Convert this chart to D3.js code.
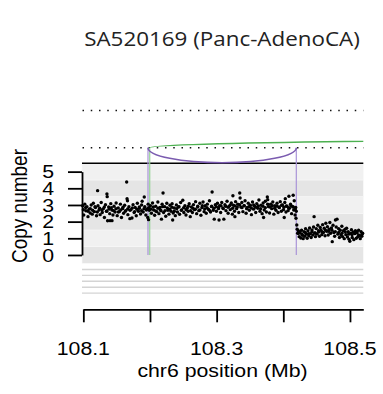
<!DOCTYPE html>
<html>
<head>
<meta charset="utf-8">
<script src="https://cdn.jsdelivr.net/npm/d3@7"></script>
<style>
  body { margin: 0; background: #fff; }
  text { font-family: "Liberation Sans", Arial, sans-serif; fill: #000; }
</style>
</head>
<body>
<svg id="chart" width="383" height="394"></svg>
<script>
const title = "SA520169 (Panc-AdenoCA)";
const xTitle = "chr6 position (Mb)";
const yTitle = "Copy number";
const xDomain = [108.098, 108.52];
const xTicks = [108.1, 108.2, 108.3, 108.4, 108.5];
const xTickLabels = ["108.1", "", "108.3", "", "108.5"];
const yTicks = [0, 1, 2, 3, 4, 5];
const cnBands = [0, 1, 2, 3, 4, 5];
const emptyTracks = [0, 1, 2, 3, 4];

// structural variants: breakpoint A, breakpoint B, kind
const svStart = [108.1970, 108.1996];
const svEnd = [108.4195, 110.0];
const svKind = ["inv", "dup"];

// copy number points [position Mb, copy number]
const leftSegment = [
  [108.0990, 2.95], [108.1006, 2.40], [108.1022, 3.05], [108.1038, 2.65], [108.1054, 2.90], [108.1070, 2.30], [108.1086, 2.75], [108.1102, 2.52], [108.1118, 3.00], [108.1134, 2.45], [108.1150, 3.10], [108.1166, 2.60], [108.1182, 2.85], [108.1198, 2.35], [108.1214, 3.86], [108.1220, 2.95], [108.1236, 2.70], [108.1252, 2.42], [108.1268, 3.15], [108.1284, 2.55], [108.1300, 2.78], [108.1316, 2.25], [108.1332, 3.02], [108.1348, 2.62], [108.1354, 3.66], [108.1358, 3.50], [108.1364, 2.05], [108.1380, 2.88], [108.1396, 2.48], [108.1401, 2.06], [108.1412, 3.08], [108.1428, 2.70], [108.1430, 2.06], [108.1444, 2.40], [108.1460, 2.92], [108.1476, 2.58], [108.1492, 3.12],
  [108.1508, 2.36], [108.1524, 2.82], [108.1540, 2.60], [108.1556, 3.05], [108.1572, 2.25], [108.1588, 2.78], [108.1604, 2.50], [108.1620, 2.98], [108.1636, 2.66], [108.1650, 4.38], [108.1656, 3.38], [108.1662, 3.25], [108.1668, 2.42], [108.1684, 2.90], [108.1698, 2.18], [108.1714, 2.72], [108.1730, 2.22], [108.1746, 3.02], [108.1762, 2.55], [108.1778, 2.85], [108.1794, 2.35], [108.1810, 3.10], [108.1826, 2.62], [108.1842, 2.80], [108.1858, 2.46], [108.1874, 3.00], [108.1882, 3.22], [108.1898, 2.58], [108.1914, 3.48], [108.1922, 2.90], [108.1938, 2.40], [108.1954, 2.76], [108.1966, 2.25], [108.1972, 3.05], [108.1978, 2.12], [108.1990, 2.68],
  [108.2006, 2.95], [108.2022, 2.50], [108.2038, 3.12], [108.2054, 2.70], [108.2070, 2.38], [108.2086, 2.92], [108.2102, 2.60], [108.2118, 3.18], [108.2134, 2.48], [108.2150, 2.85], [108.2166, 2.65], [108.2172, 2.15], [108.2182, 3.05], [108.2196, 3.72], [108.2204, 2.55], [108.2220, 2.90], [108.2236, 2.32], [108.2252, 3.10], [108.2268, 2.68], [108.2284, 2.45], [108.2300, 2.98], [108.2316, 2.62], [108.2332, 3.08], [108.2340, 2.10], [108.2348, 2.52], [108.2364, 2.82], [108.2380, 2.36], [108.2396, 3.00], [108.2412, 2.58], [108.2428, 2.88], [108.2444, 2.44], [108.2460, 3.15], [108.2476, 2.70], [108.2492, 3.28], [108.2508, 2.55], [108.2524, 2.95], [108.2540, 2.40], [108.2556, 2.80], [108.2572, 2.62], [108.2588, 3.08], [108.2604, 2.30], [108.2620, 2.88], [108.2636, 2.55], [108.2652, 3.02], [108.2668, 2.72], [108.2684, 3.20], [108.2700, 2.48], [108.2716, 2.92], [108.2732, 2.66], [108.2748, 3.10], [108.2764, 2.38], [108.2780, 2.85], [108.2796, 3.18], [108.2812, 2.60], [108.2828, 2.95], [108.2844, 2.50], [108.2860, 3.05], [108.2876, 2.75], [108.2892, 3.25], [108.2908, 2.58], [108.2924, 2.90], [108.2932, 3.78], [108.2948, 2.68], [108.2964, 2.15], [108.2980, 3.02],
  [108.2996, 2.62], [108.3012, 3.10], [108.3028, 2.78], [108.3036, 2.10], [108.3044, 2.95], [108.3060, 2.55], [108.3076, 3.15], [108.3092, 2.82], [108.3108, 2.15], [108.3124, 3.02], [108.3140, 2.66], [108.3156, 3.22], [108.3172, 2.50], [108.3188, 2.92], [108.3204, 2.72], [108.3220, 3.12], [108.3236, 2.45], [108.3244, 3.55], [108.3252, 2.98], [108.3268, 2.62], [108.3274, 2.30], [108.3284, 3.20], [108.3300, 2.78], [108.3316, 3.05], [108.3332, 2.55], [108.3346, 3.72], [108.3352, 3.42], [108.3362, 2.88], [108.3378, 3.15], [108.3394, 2.60], [108.3410, 2.95], [108.3426, 3.25], [108.3442, 2.50], [108.3458, 2.85], [108.3474, 3.10], [108.3490, 2.68], [108.3506, 2.98], [108.3522, 2.42], [108.3538, 3.18], [108.3554, 2.75], [108.3570, 2.92], [108.3586, 2.55], [108.3602, 3.08], [108.3618, 2.80], [108.3634, 3.30], [108.3650, 2.62], [108.3666, 2.98], [108.3682, 2.48], [108.3698, 3.12], [108.3704, 2.25], [108.3714, 2.70], [108.3730, 3.22], [108.3746, 2.58], [108.3760, 3.48], [108.3766, 3.32], [108.3778, 2.90], [108.3794, 2.52], [108.3810, 3.05], [108.3826, 2.78], [108.3842, 3.18], [108.3858, 2.45], [108.3874, 2.95], [108.3890, 2.68], [108.3906, 3.10], [108.3922, 2.55], [108.3938, 2.88], [108.3954, 3.20], [108.3970, 2.62], [108.3986, 3.00], [108.4002, 2.72], [108.4014, 2.25], [108.4022, 3.15], [108.4030, 3.38], [108.4040, 2.58], [108.4056, 2.92], [108.4072, 2.66], [108.4084, 3.52], [108.4092, 2.80], [108.4108, 3.05], [108.4124, 2.48], [108.4140, 2.90], [108.4148, 3.58], [108.4156, 2.70], [108.4164, 3.25], [108.4176, 2.40], [108.4186, 2.85], [108.4190, 2.20], [108.4194, 2.62],
  [108.1000, 2.72], [108.1035, 2.85], [108.1070, 2.62], [108.1105, 2.78], [108.1140, 2.68], [108.1175, 2.90], [108.1210, 2.58], [108.1245, 2.80], [108.1280, 2.70], [108.1315, 2.88], [108.1350, 2.62], [108.1385, 2.75], [108.1420, 2.84], [108.1455, 2.66], [108.1490, 2.78], [108.1525, 2.58], [108.1560, 2.70], [108.1595, 2.86], [108.1630, 2.62], [108.1665, 2.76], [108.1700, 2.68], [108.1735, 2.82], [108.1770, 2.60], [108.1805, 2.74], [108.1840, 2.88], [108.1875, 2.65], [108.1910, 2.78], [108.1945, 2.70], [108.1980, 2.84],
  [108.2015, 2.76], [108.2050, 2.88], [108.2085, 2.64], [108.2120, 2.80], [108.2155, 2.70], [108.2190, 2.90], [108.2225, 2.66], [108.2260, 2.82], [108.2295, 2.74], [108.2330, 2.86], [108.2365, 2.62], [108.2400, 2.78], [108.2435, 2.90], [108.2470, 2.68], [108.2505, 2.84], [108.2540, 2.72], [108.2575, 2.92], [108.2610, 2.66], [108.2645, 2.80], [108.2680, 2.74], [108.2715, 2.88], [108.2750, 2.70], [108.2785, 2.96], [108.2820, 2.76], [108.2855, 2.84], [108.2890, 2.68], [108.2925, 2.92], [108.2960, 2.80],
  [108.2995, 2.90], [108.3030, 2.84], [108.3065, 2.96], [108.3100, 2.78], [108.3135, 2.92], [108.3170, 2.86], [108.3205, 3.00], [108.3240, 2.80], [108.3275, 2.94], [108.3310, 2.88], [108.3345, 3.02], [108.3380, 2.84], [108.3415, 2.96], [108.3450, 2.78], [108.3485, 2.90], [108.3520, 2.82], [108.3555, 3.00], [108.3590, 2.86], [108.3625, 2.94], [108.3660, 2.78], [108.3695, 2.92], [108.3730, 2.84], [108.3765, 3.04], [108.3800, 2.88], [108.3835, 2.96], [108.3870, 2.80], [108.3905, 2.92], [108.3940, 2.84], [108.3975, 2.98], [108.4010, 2.86], [108.4045, 2.94], [108.4080, 2.82], [108.4115, 2.96], [108.4150, 2.88], [108.4180, 2.76]
];
const rightSegment = [
  [108.4202, 1.80], [108.4208, 1.55], [108.4215, 1.30], [108.4226, 1.45], [108.4238, 1.10], [108.4250, 1.35], [108.4262, 1.02], [108.4274, 1.48], [108.4286, 1.18], [108.4298, 0.98], [108.4310, 1.40], [108.4322, 1.12], [108.4334, 1.58], [108.4346, 1.25], [108.4358, 1.00], [108.4370, 1.45], [108.4382, 1.15], [108.4394, 1.62], [108.4406, 1.28], [108.4418, 1.05], [108.4430, 1.50], [108.4442, 1.20], [108.4454, 1.68], [108.4462, 2.30], [108.4470, 1.32], [108.4482, 1.10], [108.4494, 1.58], [108.4506, 1.25], [108.4518, 1.78], [108.4530, 1.38], [108.4542, 1.12], [108.4554, 1.65], [108.4566, 1.48], [108.4578, 1.22], [108.4590, 1.82], [108.4602, 1.35], [108.4614, 1.60], [108.4626, 1.15], [108.4638, 1.90], [108.4650, 1.42], [108.4662, 1.70], [108.4674, 1.20], [108.4686, 1.55], [108.4698, 1.95], [108.4710, 1.30], [108.4722, 1.62], [108.4734, 0.80], [108.4746, 1.78], [108.4758, 1.35], [108.4770, 1.12], [108.4782, 2.10], [108.4794, 1.68], [108.4806, 2.15], [108.4818, 1.25], [108.4830, 1.58], [108.4842, 1.05], [108.4854, 1.48], [108.4866, 1.20], [108.4878, 1.72], [108.4890, 1.10], [108.4902, 1.45], [108.4914, 0.98], [108.4926, 1.55], [108.4938, 1.22], [108.4950, 1.60], [108.4962, 1.08], [108.4974, 1.40], [108.4986, 0.95], [108.4998, 0.82], [108.5010, 1.30], [108.5022, 1.52], [108.5034, 1.05], [108.5046, 1.38], [108.5058, 0.92], [108.5070, 1.28], [108.5082, 1.45], [108.5094, 1.00], [108.5106, 1.35], [108.5118, 1.10], [108.5130, 1.48], [108.5142, 1.15], [108.5154, 0.98], [108.5166, 1.40], [108.5178, 1.12], [108.5190, 1.30],
  [108.4230, 1.30], [108.4280, 1.25], [108.4330, 1.35], [108.4380, 1.28], [108.4430, 1.40], [108.4480, 1.32], [108.4530, 1.45], [108.4580, 1.38], [108.4630, 1.50], [108.4680, 1.42], [108.4730, 1.48], [108.4780, 1.40], [108.4830, 1.35], [108.4880, 1.30], [108.4930, 1.38], [108.4980, 1.25], [108.5030, 1.22], [108.5080, 1.30], [108.5130, 1.20], [108.5180, 1.25]
];

let svColors = { inv: "#7b5cb0", dup: "#4cb050" };
let svLineColors = { inv: "#a994d8", dup: "#96d496" };
let stretch = 1.12;

let svg = d3.select("#chart");

let x = d3.scaleLinear().domain(xDomain).range([82, 363.3]);
let y = d3.scaleLinear().domain([-0.5, 5.5]).range([263.3, 163.3]);

let svTop = 147.7;
let svUpper = 110.5;

svg.append("defs").append("clipPath").attr("id", "plotClip")
    .append("rect")
    .attr("x", x.range()[0]).attr("y", 0)
    .attr("width", x.range()[1] - x.range()[0]).attr("height", 394);

// title
svg.append("text")
    .attr("transform", `translate(222, 46) scale(${stretch}, 1)`)
    .attr("text-anchor", "middle")
    .style("font-family", "'Open Sans', 'Noto Sans', sans-serif")
    .style("font-size", "20px")
    .style("fill", "#222")
    .text(title);

// copy number bands
svg.append("g").selectAll("rect")
    .data(cnBands)
    .enter()
    .append("rect")
    .attr("x", x.range()[0])
    .attr("width", x.range()[1] - x.range()[0])
    .attr("y", (d) => y(d + 0.5))
    .attr("height", (d) => y(d - 0.5) - y(d + 0.5))
    .style("fill", (d) => (d % 2 === 0 ? "#e5e5e5" : "#f1f1f1"))
    .style("stroke", "#f8f8f8")
    .style("stroke-width", 0.6);

// empty annotation tracks below
svg.append("g").selectAll("line")
    .data(emptyTracks)
    .enter()
    .append("line")
    .attr("x1", x.range()[0]).attr("x2", x.range()[1])
    .attr("y1", (d) => 269.5 + d * 5.9)
    .attr("y2", (d) => 269.5 + d * 5.9)
    .style("stroke", "#d4d4d4")
    .style("stroke-width", 1.4);

// dotted SV tracks
svg.append("g").selectAll("line")
    .data([svUpper, svTop])
    .enter()
    .append("line")
    .attr("x1", x.range()[0] + 0.5).attr("x2", x.range()[1])
    .attr("y1", (d) => d).attr("y2", (d) => d)
    .style("stroke", "#111")
    .style("stroke-width", 1.5)
    .style("stroke-dasharray", "1.5 6.75");

// top border of the copy number panel
svg.append("line")
    .attr("x1", x.range()[0]).attr("x2", x.range()[1])
    .attr("y1", y(5.5)).attr("y2", y(5.5))
    .style("stroke", "#000")
    .style("stroke-width", 1.6);

// SV breakpoint lines
let svs = svStart.map((s, i) => ({ start: s, end: svEnd[i], kind: svKind[i] }));
let breakpoints = [];
svs.forEach((d) => {
    breakpoints.push({ pos: d.start, kind: d.kind });
    breakpoints.push({ pos: d.end, kind: d.kind });
});

svg.append("g").attr("clip-path", "url(#plotClip)")
    .selectAll("line")
    .data(breakpoints)
    .enter()
    .append("line")
    .attr("x1", (d) => x(d.pos)).attr("x2", (d) => x(d.pos))
    .attr("y1", svTop).attr("y2", y(0))
    .style("stroke", (d) => svLineColors[d.kind])
    .style("stroke-width", 1.2);

// SV arcs
let arcHeight = { inv: 15, dup: -8.4 };
svg.append("g").attr("clip-path", "url(#plotClip)")
    .selectAll("path")
    .data(svs)
    .enter()
    .append("path")
    .attr("d", (d) => {
        let x1 = x(d.start);
        let x2 = x(d.end);
        let h = arcHeight[d.kind];
        let rx = (x2 - x1) / 2;
        return `M${x1},${svTop} A${rx},${Math.abs(h)} 0 0 ${h > 0 ? 0 : 1} ${x2},${svTop}`;
    })
    .style("fill", "none")
    .style("stroke", (d) => svColors[d.kind])
    .style("stroke-width", 1.5);

// copy number points
svg.append("g")
    .selectAll("circle")
    .data(leftSegment.concat(rightSegment))
    .enter()
    .append("circle")
    .attr("cx", (d) => x(d[0]))
    .attr("cy", (d) => y(d[1]))
    .attr("r", 1.7)
    .style("fill", "#000");

// y axis
let yAxisScale = d3.scaleLinear().domain([0, 5]).range([y(0), y(5)]);
svg.append("g")
    .attr("transform", `translate(${x.range()[0]}, 0)`)
    .call(d3.axisLeft(yAxisScale).tickValues(yTicks).tickSize(14).tickSizeOuter(0).tickFormat(""))
    .call((g) => g.selectAll("path, line").style("stroke", "#000").style("stroke-width", 1.8));

svg.append("g").selectAll("text")
    .data(yTicks)
    .enter()
    .append("text")
    .attr("transform", (d) => `translate(54, ${y(d) + 6.8}) scale(${stretch}, 1)`)
    .attr("text-anchor", "end")
    .style("font-size", "19px")
    .text((d) => d);

svg.append("text")
    .attr("transform", `translate(27, 206) scale(${stretch}, 1) rotate(-90)`)
    .attr("text-anchor", "middle")
    .style("font-size", "19px")
    .text(yTitle);

// x axis
let xAxisScale = d3.scaleLinear().domain([xTicks[0], xDomain[1]]).range([x(xTicks[0]), x(xDomain[1])]);
svg.append("g")
    .attr("transform", "translate(0, 309.3)")
    .call(d3.axisBottom(xAxisScale).tickValues(xTicks).tickSize(13).tickSizeOuter(0).tickFormat(""))
    .call((g) => g.selectAll("path, line").style("stroke", "#000").style("stroke-width", 1.8));

svg.append("g").selectAll("text")
    .data(xTicks)
    .enter()
    .append("text")
    .attr("transform", (d) => `translate(${x(d)}, 354.5) scale(${stretch}, 1)`)
    .attr("text-anchor", "middle")
    .style("font-size", "19px")
    .text((d, i) => xTickLabels[i]);

svg.append("text")
    .attr("transform", `translate(222.5, 377) scale(${stretch}, 1)`)
    .attr("text-anchor", "middle")
    .style("font-size", "19px")
    .text(xTitle);
</script>
</body>
</html>
